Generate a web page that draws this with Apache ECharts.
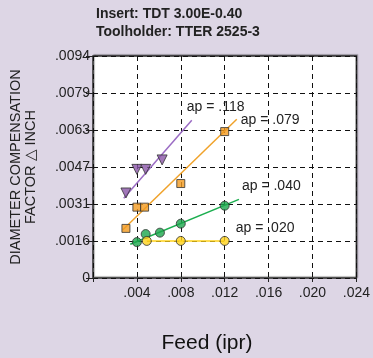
<!DOCTYPE html>
<html>
<head>
<meta charset="utf-8">
<script src="https://cdn.jsdelivr.net/npm/echarts@6/dist/echarts.min.js"></script>
<style>
  html, body { margin: 0; padding: 0; background: #ddd6e5; }
  #chart { width: 373px; height: 358px; }
</style>
</head>
<body>
<div id="chart"></div>
<script>
// Tick labels
const xTickLabels = ['', '.004', '.008', '.012', '.016', '.020', '.024'];
const yTickLabels = ['0', '.0016', '.0031', '.0047', '.0063', '.0079', '.0094'];

// Measured points: [feed, diameter compensation]
const ap118Points = [[0.0030, 0.0036], [0.0040, 0.0046], [0.0048, 0.0046], [0.0063, 0.0050]];
const ap079Points = [[0.0030, 0.0021], [0.0040, 0.0030], [0.0047, 0.0030], [0.0080, 0.0040], [0.0120, 0.0062]];
const ap040Points = [[0.0040, 0.00152], [0.0048, 0.00186], [0.0061, 0.00192], [0.0080, 0.0023], [0.0120, 0.00306]];
const ap020Points = [[0.0049, 0.00157], [0.0080, 0.00157], [0.0120, 0.00157]];

// Trend lines: [start, end]
const ap118Trend = [[0.0028, 0.00338], [0.0090, 0.00668]];
const ap079Trend = [[0.0027, 0.00203], [0.0131, 0.00672]];
const ap040Trend = [[0.0034, 0.00143], [0.0133, 0.00333]];
const ap020Trend = [[0.0049, 0.00157], [0.0120, 0.00157]];

const seriesNames = ['ap = .118', 'ap = .079', 'ap = .040', 'ap = .020'];

const yMax = 0.0094;
const yStep = yMax / 6;
const FONT = 'Liberation Sans, Arial, sans-serif';

const chart = echarts.init(document.getElementById('chart'), null, { renderer: 'canvas' });

function trendSeries(data, color, labelText, offset) {
  return {
    type: 'line',
    data: data,
    symbol: 'none',
    silent: true,
    lineStyle: { color: color, width: 1.5 },
    z: 2,
    label: { show: false },
    endLabel: {
      show: true,
      formatter: labelText,
      color: '#222',
      fontSize: 14,
      fontFamily: FONT,
      distance: 0,
      offset: offset
    }
  };
}

function pointSeries(data, symbol, size, color, rotate) {
  return {
    type: 'scatter',
    data: data,
    symbol: symbol,
    symbolSize: size,
    symbolRotate: rotate || 0,
    itemStyle: { color: color, borderColor: '#333', borderWidth: 1 },
    z: 3
  };
}

const option = {
  backgroundColor: '#ddd6e5',
  animation: false,
  grid: {
    left: 93, top: 56, right: 13, bottom: 80,
    show: true,
    backgroundColor: '#ffffff',
    borderColor: '#2a2a2a',
    borderWidth: 1.5,
    shadowColor: 'rgba(0,0,0,0.35)',
    shadowOffsetX: 1,
    shadowOffsetY: -1,
    shadowBlur: 1
  },
  xAxis: {
    type: 'value',
    min: 0, max: 0.024, interval: 0.004,
    axisLine: { show: false },
    axisTick: { show: true, length: 4, lineStyle: { color: '#222' } },
    axisLabel: {
      color: '#222', fontSize: 14, margin: 8,
      fontFamily: FONT,
      formatter: v => xTickLabels[Math.round(v / 0.004)] || ''
    },
    splitLine: { show: true, lineStyle: { color: '#111', type: [5, 4], width: 1 } }
  },
  yAxis: {
    type: 'value',
    min: 0, max: yMax, interval: yStep,
    name: 'DIAMETER COMPENSATION\nFACTOR \u25B3 INCH',
    nameLocation: 'middle',
    nameRotate: 90,
    nameGap: 55,
    nameTextStyle: {
      color: '#222', fontSize: 14.5, lineHeight: 15,
      fontFamily: FONT
    },
    axisLine: { show: false },
    axisTick: { show: true, length: 7, lineStyle: { color: '#222' } },
    axisLabel: {
      color: '#222', fontSize: 14, margin: 3,
      fontFamily: FONT,
      formatter: v => yTickLabels[Math.round(v / yStep)]
    },
    splitLine: { show: true, lineStyle: { color: '#111', type: [5, 4], width: 1 } }
  },
  graphic: [
    {
      type: 'text', left: 96, top: 7,
      style: { text: 'Insert: TDT 3.00E-0.40', fill: '#222', font: 'bold 14px "Liberation Sans", Arial, sans-serif' }
    },
    {
      type: 'text', left: 96, top: 25,
      style: { text: 'Toolholder: TTER 2525-3', fill: '#222', font: 'bold 14px "Liberation Sans", Arial, sans-serif' }
    },
    {
      type: 'text', x: 207, y: 343,
      style: { text: 'Feed (ipr)', fill: '#111', font: '21px "Liberation Sans", Arial, sans-serif', align: 'center', verticalAlign: 'middle' }
    }
  ],
  series: [
    trendSeries(ap118Trend, '#9b6cc4', seriesNames[0], [-5, -13]),
    trendSeries(ap079Trend, '#f0a22a', seriesNames[1], [4, 1]),
    trendSeries(ap040Trend, '#1bae4f', seriesNames[2], [3, -13]),
    trendSeries(ap020Trend, '#ffd21a', seriesNames[3], [11, -13]),
    pointSeries(ap118Points, 'triangle', 10, '#8a55a8', 180),
    pointSeries(ap079Points, 'rect', 8, '#f39a1e'),
    pointSeries(ap040Points, 'circle', 9, '#1ba64c'),
    pointSeries(ap020Points, 'circle', 9, '#ffd21a')
  ]
};

chart.setOption(option);
</script>
</body>
</html>
